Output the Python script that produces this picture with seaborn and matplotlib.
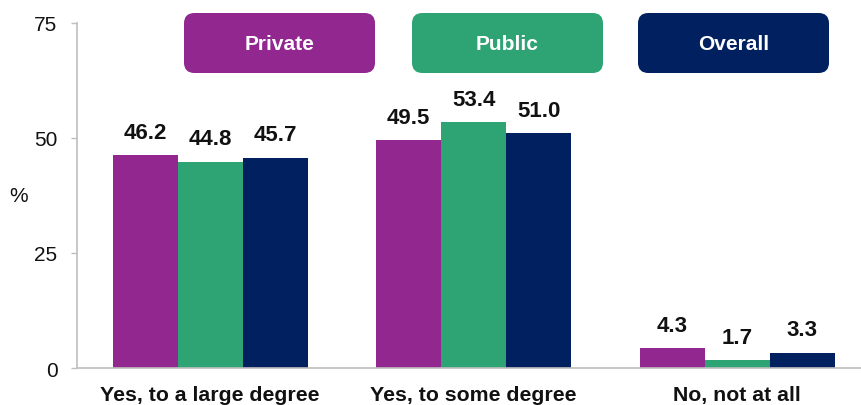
import matplotlib
matplotlib.use("Agg")
import matplotlib.pyplot as plt
from matplotlib.patches import FancyBboxPatch
import seaborn as sns
import pandas as pd

categories = ["Yes, to a large degree", "Yes, to some degree", "No, not at all"]
groups = ["Private", "Public", "Overall"]
private_vals = [46.2, 49.5, 4.3]
public_vals = [44.8, 53.4, 1.7]
overall_vals = [45.7, 51.0, 3.3]
colors = ["#92278F", "#2EA475", "#00205F"]
y_ticks = [0, 25, 50, 75]

rows = []
for g, vals in zip(groups, [private_vals, public_vals, overall_vals]):
    for c, v in zip(categories, vals):
        rows.append({"category": c, "group": g, "value": v})
df = pd.DataFrame(rows)

sns.set_theme(style="white")
plt.rcParams["font.family"] = ["Liberation Sans", "DejaVu Sans"]

fig = plt.figure(figsize=(8.62, 4.06), dpi=100)
ax = fig.add_axes([0.0893, 0.0911, 0.9107, 0.850])

sns.barplot(data=df, x="category", y="value", hue="group", order=categories,
            hue_order=groups, palette=colors, width=0.74, saturation=1,
            ax=ax, legend=False, linewidth=0)

for cont in ax.containers:
    ax.bar_label(cont, fmt="%.1f", padding=9, fontsize=16, fontweight="bold",
                 color="#111111")

ax.set_ylim(0, 75)
ax.set_xlim(-0.505, 2.474)
ax.set_yticks(y_ticks)
ax.set_yticklabels([str(t) for t in y_ticks], fontsize=15, color="#111111")
ax.tick_params(axis="y", length=4, width=1, color="#BFBFBF", pad=10, left=True)
ax.tick_params(axis="x", length=0, pad=12)
for lbl in ax.get_xticklabels():
    lbl.set_fontsize(15.3)
    lbl.set_fontweight("bold")
    lbl.set_color("#111111")
ax.set_xlabel("")
ax.set_ylabel("")
fig.text(0.021, 0.515, "%", fontsize=15, color="#111111", ha="center", va="center")

for side in ["top", "right"]:
    ax.spines[side].set_visible(False)
for side in ["left", "bottom"]:
    ax.spines[side].set_color("#BFBFBF")
    ax.spines[side].set_linewidth(1.2)

# legend tiles
box_w, box_h = 191 / 862, 60 / 406
box_y = 1 - 74 / 406
box_xs = [184 / 862, 412 / 862, 638 / 862]
for x0, g, col in zip(box_xs, groups, colors):
    patch = FancyBboxPatch((x0, box_y), box_w, box_h,
                           boxstyle="round,pad=0,rounding_size=0.012",
                           transform=fig.transFigure, facecolor=col,
                           edgecolor="none", mutation_aspect=862 / 406)
    fig.patches.append(patch)
    fig.text(x0 + box_w / 2, box_y + box_h / 2, g, color="white",
             fontsize=15, fontweight="bold", ha="center", va="center")

fig.savefig("out.png", dpi=100)
